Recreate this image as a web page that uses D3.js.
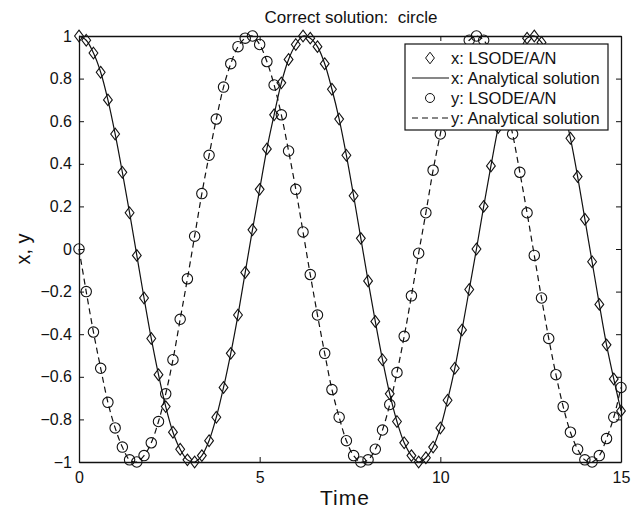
<!DOCTYPE html>
<html>
<head>
<meta charset="utf-8">
<script src="https://cdn.jsdelivr.net/npm/d3@7"></script>
<style>
  body { margin: 0; background: #fff; }
  text { font-family: "Liberation Sans", Arial, sans-serif; fill: #111; }
</style>
</head>
<body>
<svg id="chart" width="633" height="508"></svg>
<script>
// time samples (step 0.2)
const times = [
  0.0, 0.2, 0.4, 0.6, 0.8, 1.0, 1.2, 1.4, 1.6, 1.8,
  2.0, 2.2, 2.4, 2.6, 2.8, 3.0, 3.2, 3.4, 3.6, 3.8,
  4.0, 4.2, 4.4, 4.6, 4.8, 5.0, 5.2, 5.4, 5.6, 5.8,
  6.0, 6.2, 6.4, 6.6, 6.8, 7.0, 7.2, 7.4, 7.6, 7.8,
  8.0, 8.2, 8.4, 8.6, 8.8, 9.0, 9.2, 9.4, 9.6, 9.8,
  10.0, 10.2, 10.4, 10.6, 10.8, 11.0, 11.2, 11.4, 11.6, 11.8,
  12.0, 12.2, 12.4, 12.6, 12.8, 13.0, 13.2, 13.4, 13.6, 13.8,
  14.0, 14.2, 14.4, 14.6, 14.8, 15.0
];

// x values
const xValues = [
  1.00, 0.98, 0.92, 0.83, 0.70, 0.54, 0.36, 0.17, -0.03, -0.23,
  -0.42, -0.59, -0.74, -0.86, -0.94, -0.99, -1.00, -0.97, -0.90, -0.79,
  -0.65, -0.49, -0.31, -0.11, 0.09, 0.28, 0.47, 0.63, 0.78, 0.89,
  0.96, 1.00, 0.99, 0.95, 0.87, 0.75, 0.61, 0.44, 0.25, 0.05,
  -0.15, -0.34, -0.52, -0.68, -0.81, -0.91, -0.97, -1.00, -0.98, -0.93,
  -0.84, -0.71, -0.56, -0.38, -0.19, 0.00, 0.20, 0.39, 0.57, 0.72,
  0.84, 0.93, 0.99, 1.00, 0.97, 0.91, 0.81, 0.67, 0.52, 0.34,
  0.14, -0.06, -0.26, -0.45, -0.61, -0.76
];

// y values
const yValues = [
  0.00, -0.20, -0.39, -0.56, -0.72, -0.84, -0.93, -0.99, -1.00, -0.97,
  -0.91, -0.81, -0.68, -0.52, -0.33, -0.14, 0.06, 0.26, 0.44, 0.61,
  0.76, 0.87, 0.95, 0.99, 1.00, 0.96, 0.88, 0.77, 0.63, 0.46,
  0.28, 0.08, -0.12, -0.31, -0.49, -0.66, -0.79, -0.90, -0.97, -1.00,
  -0.99, -0.94, -0.85, -0.73, -0.58, -0.41, -0.22, -0.02, 0.17, 0.37,
  0.54, 0.70, 0.83, 0.92, 0.98, 1.00, 0.98, 0.92, 0.82, 0.69,
  0.54, 0.36, 0.17, -0.03, -0.23, -0.42, -0.59, -0.74, -0.86, -0.94,
  -0.99, -1.00, -0.97, -0.89, -0.79, -0.65
];

const xTicks = [0, 5, 10, 15];
const yTicks = [-1, -0.8, -0.6, -0.4, -0.2, 0, 0.2, 0.4, 0.6, 0.8, 1];

const legendLabels = [
  "x: LSODE/A/N",
  "x: Analytical solution",
  "y: LSODE/A/N",
  "y: Analytical solution"
];

const svg = d3.select("#chart");
const margin = { top: 36, right: 12, bottom: 46, left: 79 };
const width = 633 - margin.left - margin.right;
const height = 508 - margin.top - margin.bottom;

const x = d3.scaleLinear().domain([0, 15]).range([0, width]);
const y = d3.scaleLinear().domain([-1, 1]).range([height, 0]);

const g = svg.append("g").attr("transform", `translate(${margin.left},${margin.top})`);

const xData = times.map((t, i) => ({ t, v: xValues[i] }));
const yData = times.map((t, i) => ({ t, v: yValues[i] }));

const line = d3
  .line()
  .x((d) => x(d.t))
  .y((d) => y(d.v))
  .curve(d3.curveCatmullRom);

const diamond = "M0,-5.8L4.4,0L0,5.8L-4.4,0Z";

const plot = g.append("g");

// analytical curves
plot
  .append("path")
  .datum(yData)
  .attr("fill", "none")
  .attr("stroke", "#111")
  .attr("stroke-width", 1.2)
  .attr("stroke-dasharray", "6,4")
  .attr("d", line);

plot
  .append("path")
  .datum(xData)
  .attr("fill", "none")
  .attr("stroke", "#111")
  .attr("stroke-width", 1.2)
  .attr("d", line);

// solver markers
plot
  .selectAll("path.dia")
  .data(xData)
  .enter()
  .append("path")
  .attr("class", "dia")
  .attr("d", diamond)
  .attr("transform", (d) => `translate(${x(d.t)},${y(d.v)})`)
  .attr("fill", "none")
  .attr("stroke", "#111")
  .attr("stroke-width", 1.1);

plot
  .selectAll("circle.cir")
  .data(yData)
  .enter()
  .append("circle")
  .attr("class", "cir")
  .attr("cx", (d) => x(d.t))
  .attr("cy", (d) => y(d.v))
  .attr("r", 5.2)
  .attr("fill", "none")
  .attr("stroke", "#111")
  .attr("stroke-width", 1.1);

// axes, ticks pointing inward on all four sides
const fmt = (d) => (d === 0 ? "0" : d3.format("")(+d.toFixed(1)));

const axisB = g
  .append("g")
  .attr("transform", `translate(0,${height})`)
  .call(d3.axisBottom(x).tickValues(xTicks).tickSizeInner(-5).tickSizeOuter(0).tickPadding(10).tickFormat(fmt));
const axisL = g
  .append("g")
  .call(d3.axisLeft(y).tickValues(yTicks).tickSizeInner(-5).tickSizeOuter(0).tickPadding(7).tickFormat(fmt));
const axisT = g
  .append("g")
  .call(d3.axisTop(x).tickValues(xTicks).tickSizeInner(-5).tickSizeOuter(0).tickFormat(""));
const axisR = g
  .append("g")
  .attr("transform", `translate(${width},0)`)
  .call(d3.axisRight(y).tickValues(yTicks).tickSizeInner(-5).tickSizeOuter(0).tickFormat(""));

[axisB, axisL, axisT, axisR].forEach((a) => {
  a.select(".domain").attr("stroke", "#111").attr("stroke-width", 1.3);
  a.selectAll(".tick line").attr("stroke", "#111");
  a.selectAll(".tick text").attr("font-size", 16).attr("fill", "#111");
});

// legend
const legend = g.append("g").attr("transform", `translate(${405 - margin.left},${44 - margin.top})`);
legend
  .append("rect")
  .attr("width", 203)
  .attr("height", 86)
  .attr("fill", "#fff")
  .attr("stroke", "#111")
  .attr("stroke-width", 1.2);

legendLabels.forEach((label, i) => {
  const row = legend.append("g").attr("transform", `translate(0,${14 + i * 20})`);
  if (i === 0) {
    row.append("path").attr("d", diamond).attr("transform", "translate(25,0)")
      .attr("fill", "none").attr("stroke", "#111");
  } else if (i === 2) {
    row.append("circle").attr("cx", 25).attr("r", 4.5)
      .attr("fill", "none").attr("stroke", "#111");
  } else {
    row.append("line").attr("x1", 7).attr("x2", 44)
      .attr("stroke", "#111").attr("stroke-width", 1.2)
      .attr("stroke-dasharray", i === 3 ? "6,4" : null);
  }
  row.append("text").attr("x", 46).attr("dy", "0.35em").attr("font-size", 16.5).text(label);
});

// titles
svg.append("text")
  .attr("x", 351)
  .attr("y", 23)
  .attr("text-anchor", "middle")
  .attr("font-size", 17)
  .style("white-space", "pre")
  .text("Correct solution:  circle");

svg.append("text")
  .attr("x", 345)
  .attr("y", 505)
  .attr("text-anchor", "middle")
  .attr("font-size", 21)
  .attr("letter-spacing", 1)
  .text("Time");

svg.append("text")
  .attr("transform", `translate(30,${margin.top + height / 2}) rotate(-90)`)
  .attr("text-anchor", "middle")
  .attr("font-size", 20)
  .text("x, y");
</script>
</body>
</html>
